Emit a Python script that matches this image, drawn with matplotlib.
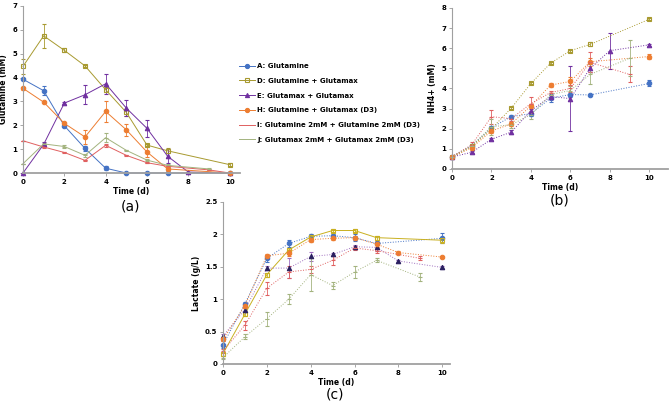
import numpy as np
import matplotlib
matplotlib.use('Agg')
import matplotlib.pyplot as plt
from matplotlib.lines import Line2D

plt.rcParams['font.family'] = ['DejaVu Sans']
plt.rcParams['font.weight'] = 'bold'

labels = ['A: Glutamine', 'D: Glutamine + Glutamax', 'E: Glutamax + Glutamax',
          'H: Glutamine + Glutamax (D3)', 'I: Glutamine 2mM + Glutamine 2mM (D3)',
          'J: Glutamax 2mM + Glutamax 2mM (D3)']
colors = ['#4472c4', '#a89a30', '#7030a0', '#ed7d31', '#e06060', '#a3b37e']
markers = ['o', 's', '^', 'o', '_', '_']

# (a) Glutamine (mM)
glu_days = [
    [0, 1, 2, 3, 4, 5, 6, 7, 10],
    [0, 1, 2, 3, 4, 5, 6, 7, 10],
    [0, 1, 2, 3, 4, 5, 6, 7, 8, 10],
    [0, 1, 2, 3, 4, 5, 6, 7, 10],
    [0, 1, 2, 3, 4, 5, 6, 7, 9, 10],
    [0, 1, 2, 3, 4, 5, 6, 7, 9],
]
glu_vals = [
    [3.93, 3.45, 1.98, 1.03, 0.2, 0.0, 0.0, 0.0, 0.0],
    [4.47, 5.75, 5.14, 4.49, 3.49, 2.54, 1.17, 0.93, 0.35],
    [0.0, 1.2, 2.93, 3.28, 3.74, 2.72, 1.87, 0.7, 0.04, 0.0],
    [3.55, 2.97, 2.08, 1.51, 2.58, 1.81, 0.88, 0.17, 0.0],
    [1.35, 1.09, 0.86, 0.53, 1.16, 0.74, 0.43, 0.28, 0.13, 0.0],
    [0.39, 1.22, 1.11, 0.74, 1.48, 0.95, 0.54, 0.32, 0.17],
]
glu_errs = [
    [0.05, 0.2, 0.05, 0.12, 0.08, 0, 0, 0, 0],
    [0.3, 0.5, 0.08, 0.05, 0.1, 0.15, 0.05, 0.1, 0.05],
    [0, 0.1, 0.05, 0.4, 0.42, 0.35, 0.35, 0.3, 0, 0],
    [0.05, 0.05, 0.05, 0.3, 0.45, 0.25, 0.2, 0.1, 0],
    [0, 0.03, 0.03, 0.03, 0.05, 0.03, 0.03, 0.03, 0.02, 0],
    [0, 0.05, 0.05, 0.05, 0.2, 0.03, 0.03, 0.05, 0.03],
]

# (b) NH4+ (mM)
nh4_days = [
    [0, 1, 2, 3, 4, 5, 6, 7, 10],
    [0, 1, 2, 3, 4, 5, 6, 7, 10],
    [0, 1, 2, 3, 4, 5, 6, 7, 8, 10],
    [0, 1, 2, 3, 4, 5, 6, 7, 10],
    [0, 1, 2, 3, 4, 5, 6, 7, 9],
    [0, 1, 2, 3, 4, 5, 6, 7, 9],
]
nh4_vals = [
    [0.62, 1.16, 2.06, 2.6, 2.75, 3.52, 3.7, 3.68, 4.25],
    [0.6, 1.12, 2.0, 3.02, 4.25, 5.26, 5.88, 6.19, 7.44],
    [0.6, 0.83, 1.48, 1.83, 2.9, 3.6, 3.5, 5.0, 5.88, 6.17],
    [0.6, 1.06, 1.89, 2.24, 3.14, 4.17, 4.35, 5.33, 5.59],
    [0.62, 1.2, 2.6, 2.5, 3.25, 3.8, 4.0, 5.3, 4.7],
    [0.6, 1.15, 2.1, 2.2, 2.7, 3.7, 3.9, 4.7, 5.5],
]
nh4_errs = [
    [0.05, 0.05, 0.1, 0.1, 0.1, 0.2, 0.1, 0.05, 0.15],
    [0.05, 0.05, 0.05, 0.05, 0.05, 0.05, 0.05, 0.1, 0.05],
    [0.05, 0.05, 0.05, 0.1, 0.1, 0.1, 1.6, 0.2, 0.9, 0.05],
    [0.05, 0.1, 0.1, 0.1, 0.1, 0.1, 0.2, 0.2, 0.1],
    [0.05, 0.15, 0.35, 0.1, 0.35, 0.1, 0.15, 0.5, 0.4],
    [0.05, 0.1, 0.4, 0.15, 0.2, 0.1, 0.2, 0.5, 0.9],
]

# (c) Lactate (g/L)
lac_days = [
    [0, 1, 2, 3, 4, 5, 6, 7, 10],
    [0, 1, 2, 3, 4, 5, 6, 7, 10],
    [0, 1, 2, 3, 4, 5, 6, 7, 8, 10],
    [0, 1, 2, 3, 4, 5, 6, 7, 8, 10],
    [0, 1, 2, 3, 4, 5, 6, 7, 9],
    [0, 1, 2, 3, 4, 5, 6, 7, 9],
]
lac_vals = [
    [0.3, 0.93, 1.63, 1.86, 1.97, 1.98, 1.95, 1.86, 1.94],
    [0.16, 0.77, 1.38, 1.76, 1.96, 2.06, 2.06, 1.95, 1.91],
    [0.43, 0.84, 1.48, 1.48, 1.66, 1.69, 1.81, 1.8, 1.59, 1.49],
    [0.38, 0.9, 1.67, 1.71, 1.92, 1.94, 1.95, 1.85, 1.72, 1.65],
    [0.2, 0.6, 1.17, 1.42, 1.46, 1.6, 1.79, 1.75, 1.63],
    [0.1, 0.42, 0.7, 1.0, 1.38, 1.21, 1.42, 1.6, 1.34],
]
lac_errs = [
    [0.05, 0.03, 0.05, 0.05, 0.03, 0.03, 0.05, 0.03, 0.08],
    [0.03, 0.03, 0.03, 0.03, 0.03, 0.03, 0.03, 0.03, 0.05],
    [0.03, 0.03, 0.03, 0.15, 0.07, 0.03, 0.03, 0.05, 0.02, 0.02],
    [0.03, 0.03, 0.03, 0.05, 0.03, 0.03, 0.03, 0.05, 0.02, 0.02],
    [0.03, 0.07, 0.1, 0.1, 0.05, 0.07, 0.03, 0.03, 0.03],
    [0.03, 0.04, 0.11, 0.08, 0.26, 0.05, 0.1, 0.03, 0.06],
]


def draw(ax, days, vals, errs, styles, xmax, ymax, ylabel):
    for i in range(6):
        ls, lc, mc = styles[i]
        mfc = 'none' if markers[i] == 's' else mc
        ms = 3.2 if markers[i] != '_' else 2.5
        ax.errorbar(days[i], vals[i], yerr=errs[i], color=lc, ls=ls, lw=0.7,
                    marker=markers[i], ms=ms, mfc=mfc, mec=mc, mew=0.8,
                    ecolor=lc, elinewidth=0.6, capsize=1.5, capthick=0.6,
                    clip_on=False)
    ax.set_xlim(0, xmax)
    ax.set_ylim(0, ymax)
    ax.set_xticks([0, 2, 4, 6, 8, 10])
    for s in ['top', 'right']:
        ax.spines[s].set_visible(False)
    ax.spines['left'].set_color('#a0a0a0')
    ax.spines['left'].set_linewidth(0.8)
    ax.spines['bottom'].set_color('#a0a0a0')
    ax.spines['bottom'].set_linewidth(1.3)
    ax.tick_params(labelsize=5, length=2, width=0.6, color='#999999', pad=2)
    ax.set_xlabel('Time (d)', fontsize=5.5, fontweight='bold', labelpad=2)
    ax.set_ylabel(ylabel, fontsize=5.5, fontweight='bold', labelpad=3)


fig = plt.figure(figsize=(6.69, 4.03), dpi=100)
W, H = 669, 403


def add_ax(x0, x1, ytop, ybot):
    return fig.add_axes([x0 / W, (H - ybot) / H, (x1 - x0) / W, (ybot - ytop) / H])


solid = [('-', c, c) for c in colors]
ax_a = add_ax(23, 240, 6, 173)
draw(ax_a, glu_days, glu_vals, glu_errs, solid, 10.5, 7, 'Glutamine (mM)')

dotted = [(':', c, c) for c in colors]
ax_b = add_ax(452, 668, 8, 169)
draw(ax_b, nh4_days, nh4_vals, nh4_errs, dotted, 10.95, 8, 'NH4+ (mM)')

lac_styles = [(':', colors[0], colors[0]), ('-', '#c9b020', '#c9b020'),
              (':', '#a070c0', '#2a2060'), (':', colors[3], colors[3]),
              (':', colors[4], colors[4]), (':', colors[5], colors[5])]
ax_c = add_ax(223, 450, 202, 364)
draw(ax_c, lac_days, lac_vals, lac_errs, lac_styles, 10.35, 2.5, 'Lactate (g/L)')
ax_c.set_yticks([0, 0.5, 1, 1.5, 2, 2.5])
ax_c.set_yticklabels(['0', '0.5', '1', '1.5', '2', '2.5'])

# legend: plain line + marker, no error bars
handles = []
for i in range(6):
    m = markers[i] if markers[i] != '_' else None
    handles.append(Line2D([], [], color=colors[i], lw=0.7, marker=m, ms=3,
                          mfc='none' if markers[i] == 's' else colors[i],
                          mec=colors[i], mew=0.8))
fig.legend(handles, labels, loc='upper left', bbox_to_anchor=(233 / W, 1 - 57 / H),
           frameon=False, fontsize=5, handlelength=2.2, labelspacing=1.25,
           handletextpad=0.4)

fig.text(130 / W, 1 - 207 / H, '(a)', fontsize=10, fontweight='normal', ha='center', va='center')
fig.text(560 / W, 1 - 201 / H, '(b)', fontsize=10, fontweight='normal', ha='center', va='center')
fig.text(335 / W, 1 - 394 / H, '(c)', fontsize=10, fontweight='normal', ha='center', va='center')

fig.savefig('out.png', dpi=100)
